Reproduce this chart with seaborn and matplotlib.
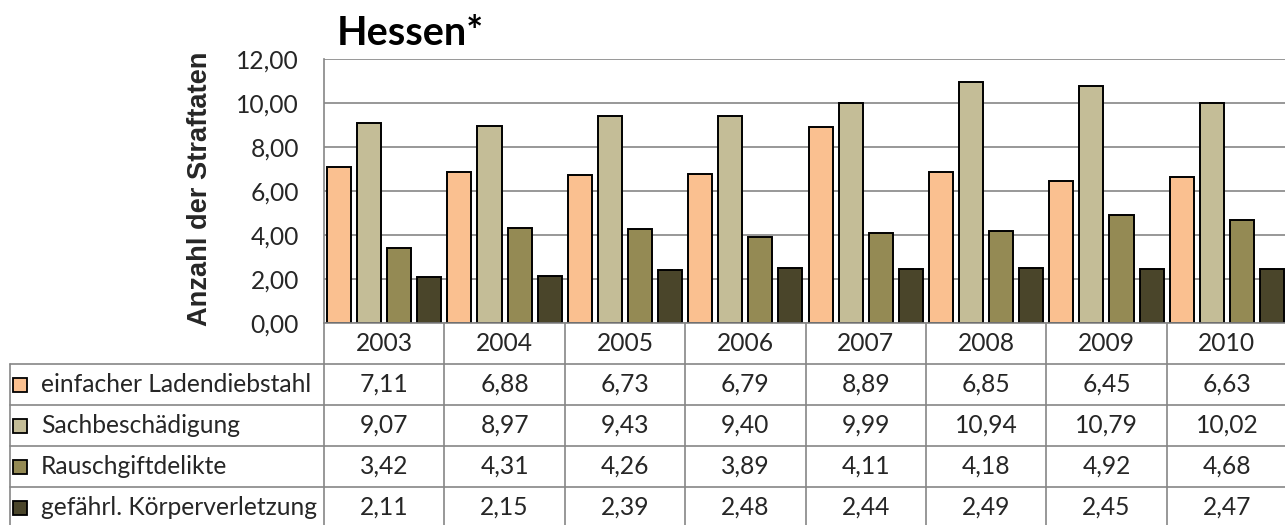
import numpy as np
import pandas as pd
import matplotlib
matplotlib.use("Agg")
import matplotlib.pyplot as plt
import seaborn as sns
from matplotlib.patches import Rectangle
from matplotlib.transforms import blended_transform_factory

# ---------------- data ----------------
years = ["2003", "2004", "2005", "2006", "2007", "2008", "2009", "2010"]
series = ["einfacher Ladendiebstahl", "Sachbeschädigung", "Rauschgiftdelikte",
          "gefährl. Körperverletzung"]
ladendiebstahl = [7.11, 6.88, 6.73, 6.79, 8.89, 6.85, 6.45, 6.63]
sachbeschaedigung = [9.07, 8.97, 9.43, 9.40, 9.99, 10.94, 10.79, 10.02]
rauschgift = [3.42, 4.31, 4.26, 3.89, 4.11, 4.18, 4.92, 4.68]
koerperverletzung = [2.11, 2.15, 2.39, 2.48, 2.44, 2.49, 2.45, 2.47]
yticks = [0, 2, 4, 6, 8, 10, 12]
title = "Hessen*"
ylabel = "Anzahl der Straftaten"
colors = ["#FAC090", "#C4BD97", "#948A54", "#4A452A"]

values = [ladendiebstahl, sachbeschaedigung, rauschgift, koerperverletzung]
df = pd.DataFrame({
    "Jahr": np.tile(years, len(series)),
    "Delikt": np.repeat(series, len(years)),
    "Wert": np.concatenate(values),
})

def fmt(v):
    return f"{v:.2f}".replace(".", ",")

# ---------------- style ----------------
sns.set_theme(style="white")
plt.rcParams['font.family'] = ['Lato', 'DejaVu Sans']
FS = 17.7
GRID = "#868686"

W, H = 1285, 525
fig = plt.figure(figsize=(W / 100, H / 100), dpi=100)

AX_L, AX_R, AX_T, AX_B = 324, 1287, 59, 323
ax = fig.add_axes([AX_L / W, 1 - AX_B / H, (AX_R - AX_L) / W, (AX_B - AX_T) / H])
sns.barplot(data=df, x="Jahr", y="Wert", hue="Delikt", order=years, hue_order=series,
            palette=colors, saturation=1, width=1.0, gap=0.2,
            edgecolor="black", linewidth=1.4, legend=False, ax=ax, errorbar=None)
ax.set_xlim(-0.5, len(years) - 0.5)
ax.set_ylim(0, 12)
ax.set_yticks(yticks)
ax.set_yticklabels([fmt(t) for t in yticks], fontsize=FS)
ax.set_xticks([])
ax.set_xlabel("")
ax.set_ylabel("")
ax.tick_params(axis="y", length=0, pad=18)
ax.yaxis.grid(True, color=GRID, linewidth=1.2)
ax.set_axisbelow(True)
for s in ["top", "right"]:
    ax.spines[s].set_visible(False)
for s in ["left", "bottom"]:
    ax.spines[s].set_color(GRID)
    ax.spines[s].set_linewidth(1.2)

# title and y label
fig.text(337 / W, 1 - 45 / H, title, fontsize=28.5, fontweight="bold",
         ha="left", va="baseline", color="black")
fig.text(200 / W, 1 - 189 / H, ylabel, rotation=90, fontsize=19.6, fontweight="bold",
         family=["Liberation Sans", "DejaVu Sans"], ha="center", va="center")

# ---------------- data table ----------------
tab = fig.add_axes([0, 0, 1, 1], zorder=-1)
tab.set_xlim(0, W)
tab.set_ylim(H, 0)
tab.axis("off")
tr = blended_transform_factory(ax.transData, tab.transData)

row_edges = [323, 364, 405, 446, 487, 528]
col_w = (AX_R - AX_L) / len(years)
lkw = dict(color=GRID, linewidth=1.2)
for y in row_edges[1:]:
    tab.plot([10, AX_R], [y, y], **lkw)
tab.plot([10, 10], [row_edges[1], row_edges[-1]], **lkw)
for k in range(len(years) + 1):
    x = AX_L + k * col_w
    tab.plot([x, x], [row_edges[0], row_edges[-1]], **lkw)

ycen = [(row_edges[i] + row_edges[i + 1]) / 2 for i in range(len(row_edges) - 1)]
for i, yr in enumerate(years):
    tab.text(i, ycen[0], yr, transform=tr, fontsize=FS, ha="center", va="center")

for r, (name, vals, c) in enumerate(zip(series, values, colors)):
    yc = ycen[r + 1]
    tab.add_patch(Rectangle((13, yc - 7), 14, 14, facecolor=c, edgecolor="black", linewidth=1.3))
    tab.text(41, yc, name, fontsize=FS, ha="left", va="center")
    for i, v in enumerate(vals):
        tab.text(i, yc, fmt(v), transform=tr, fontsize=FS, ha="center", va="center")

fig.savefig("out.png", dpi=100)
